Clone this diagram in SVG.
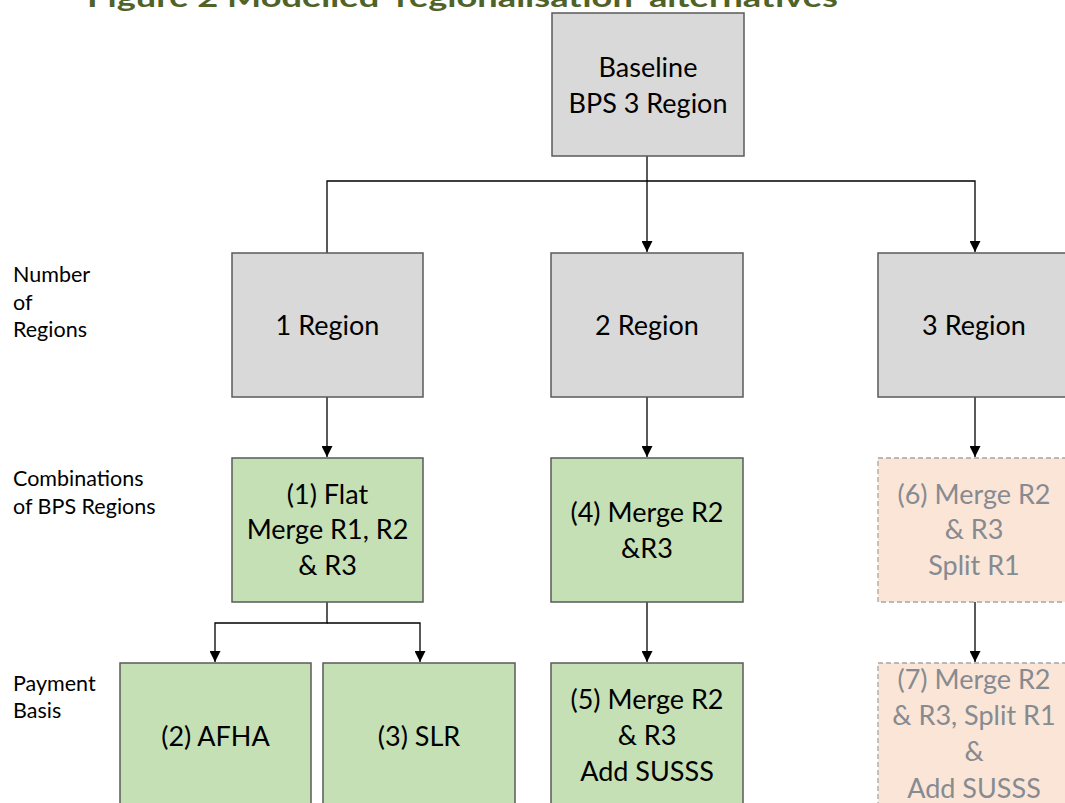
<svg xmlns="http://www.w3.org/2000/svg" width="1065" height="803" viewBox="0 0 1065 803">
<style>
text{font-family:Lato,"Open Sans","Noto Sans",sans-serif;}
.t{font-size:27px;fill:#000;text-anchor:middle;}
.tg{font-size:27px;fill:#868b92;text-anchor:middle;}
.l{font-size:21.5px;fill:#000;}
.grey{fill:#d9d9d9;stroke:#5a5a5a;stroke-width:1.5;}
.green{fill:#c5e0b4;stroke:#5a5a5a;stroke-width:1.5;}
.peach{fill:#fbe5d6;stroke:#a6a6a6;stroke-width:1.3;stroke-dasharray:5 3;}
.c{fill:none;stroke:#000;stroke-width:1.3;}
.title{font-size:27px;font-weight:bold;fill:#4f6228;}
</style>
<defs>
<marker id="ah" markerWidth="11" markerHeight="11" refX="11" refY="5.5" orient="auto" markerUnits="userSpaceOnUse">
<path d="M0,0 L11,5.5 L0,11 z" fill="#000"/>
</marker>
</defs>
<rect width="1065" height="803" fill="#fff"/>
<text class="title" x="87" y="7" textLength="751" lengthAdjust="spacingAndGlyphs">Figure 2 Modelled ‘regionalisation’ alternatives</text>

<g id="labels">
<text class="l" x="13" y="282">Number</text>
<text class="l" x="13" y="310">of</text>
<text class="l" x="13" y="337">Regions</text>
<text class="l" x="13" y="486">Combinations</text>
<text class="l" x="13" y="514">of BPS Regions</text>
<text class="l" x="13" y="691">Payment</text>
<text class="l" x="13" y="718">Basis</text>
</g>

<g id="connectors">
<path class="c" d="M647,156 V252" marker-end="url(#ah)"/>
<path class="c" d="M327,253 V181 H975 V252" marker-end="url(#ah)"/>
<path class="c" d="M327,397 V457" marker-end="url(#ah)"/>
<path class="c" d="M647,397 V457" marker-end="url(#ah)"/>
<path class="c" d="M975,397 V457" marker-end="url(#ah)"/>
<path class="c" d="M327,602 V623 H215 V662" marker-end="url(#ah)"/>
<path class="c" d="M327,623 H420 V662" marker-end="url(#ah)"/>
<path class="c" d="M647,602 V662" marker-end="url(#ah)"/>
<path class="c" d="M975,602 V662" marker-end="url(#ah)"/>
</g>

<g id="baseline">
<rect class="grey" x="552" y="13" width="192" height="143"/>
<text class="t" x="648" y="77">Baseline</text>
<text class="t" x="648" y="113">BPS 3 Region</text>
</g>
<g id="region1">
<rect class="grey" x="232" y="253" width="191" height="144"/>
<text class="t" x="327.5" y="335">1 Region</text>
</g>
<g id="region2">
<rect class="grey" x="551" y="253" width="192" height="144"/>
<text class="t" x="647" y="335">2 Region</text>
</g>
<g id="region3">
<rect class="grey" x="878" y="253" width="192" height="144"/>
<text class="t" x="974" y="335">3 Region</text>
</g>
<g id="opt1">
<rect class="green" x="232" y="458" width="191" height="144"/>
<text class="t" x="327.5" y="504">(1) Flat</text>
<text class="t" x="327.5" y="539">Merge R1, R2</text>
<text class="t" x="327.5" y="575">&amp; R3</text>
</g>
<g id="opt4">
<rect class="green" x="551" y="458" width="192" height="144"/>
<text class="t" x="647" y="522">(4) Merge R2</text>
<text class="t" x="647" y="558">&amp;R3</text>
</g>
<g id="opt6">
<rect class="peach" x="878" y="458" width="192" height="144"/>
<text class="tg" x="974" y="504">(6) Merge R2</text>
<text class="tg" x="974" y="539">&amp; R3</text>
<text class="tg" x="974" y="575">Split R1</text>
</g>
<g id="opt2">
<rect class="green" x="120" y="663" width="191" height="160"/>
<text class="t" x="215.5" y="746">(2) AFHA</text>
</g>
<g id="opt3">
<rect class="green" x="323" y="663" width="192" height="160"/>
<text class="t" x="419" y="746">(3) SLR</text>
</g>
<g id="opt5">
<rect class="green" x="551" y="663" width="192" height="160"/>
<text class="t" x="647" y="709">(5) Merge R2</text>
<text class="t" x="647" y="745">&amp; R3</text>
<text class="t" x="647" y="781">Add SUSSS</text>
</g>
<g id="opt7">
<rect class="peach" x="878" y="663" width="192" height="160"/>
<text class="tg" x="974" y="689">(7) Merge R2</text>
<text class="tg" x="974" y="725">&amp; R3, Split R1</text>
<text class="tg" x="974" y="761">&amp;</text>
<text class="tg" x="974" y="798">Add SUSSS</text>
</g>
</svg>
